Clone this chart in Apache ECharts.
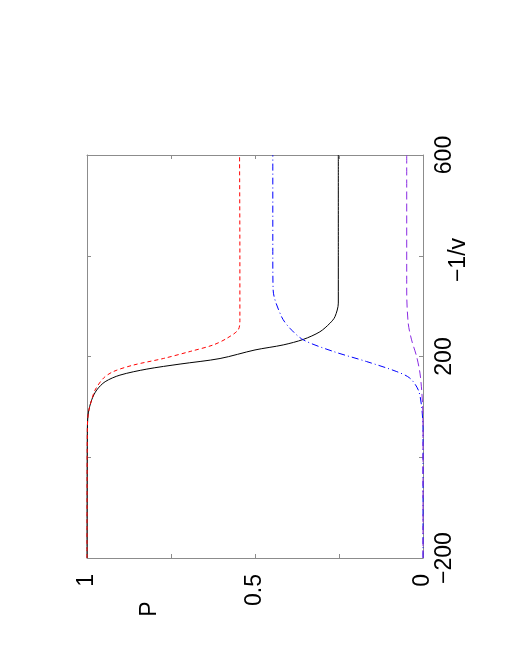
<!DOCTYPE html>
<html>
<head>
<meta charset="utf-8">
<script src="https://cdn.jsdelivr.net/npm/echarts@6/dist/echarts.min.js"></script>
<style>
  html, body { margin: 0; padding: 0; background: #fff; }
  #chart { width: 510px; height: 660px; }
</style>
</head>
<body>
<div id="chart"></div>
<script>
// -1/v positions and P values, one pair per curve
const solidNegInvV = [-200, 54, 88, 114, 133.5, 150, 163, 175, 185, 196, 213, 223, 234, 249, 266, 279, 306, 400, 600];
const solidP = [1, 0.999, 0.996, 0.986, 0.971, 0.946, 0.902, 0.822, 0.723, 0.604, 0.5, 0.416, 0.356, 0.307, 0.277, 0.262, 0.252, 0.252, 0.252];

const redNegInvV = [-200, 54, 88, 114, 133.5, 157, 170, 183, 196, 210, 223, 236, 253, 272, 400, 600];
const redP = [1, 0.999, 0.996, 0.986, 0.976, 0.951, 0.922, 0.862, 0.773, 0.693, 0.624, 0.584, 0.55, 0.545, 0.545, 0.546];

const blueNegInvV = [-200, 54, 100, 133.5, 157, 170, 190, 210, 233, 256, 279, 332, 400, 600];
const blueP = [0, 0, 0.004, 0.014, 0.039, 0.078, 0.168, 0.267, 0.356, 0.396, 0.421, 0.446, 0.447, 0.447];

const purpleNegInvV = [-200, 54, 100, 133.5, 167, 200, 233, 266, 332, 600];
const purpleP = [0, 0, 0.001, 0.004, 0.009, 0.019, 0.034, 0.044, 0.0485, 0.0485];

const pTicks = [0, 0.5, 1];
const vTicks = [-200, 200, 600];

const font = '"Liberation Sans", Arial, sans-serif';
const frameColor = '#8c8c8c';

const pairs = (xs, ys) => xs.map((v, i) => [ys[i], v]);

const chart = echarts.init(document.getElementById('chart'));

const baseAxis = {
  type: 'value',
  axisLine: { show: true, onZero: false, lineStyle: { color: frameColor, width: 1 } },
  axisTick: { show: true, inside: true, length: 4, lineStyle: { color: frameColor } },
  splitLine: { show: false },
};

const lineSeries = (xs, ys, lineStyle) => ({
  type: 'line',
  data: pairs(xs, ys),
  symbol: 'none',
  silent: true,
  smooth: 0.3,
  lineStyle: { width: 1, ...lineStyle },
});

chart.setOption({
  animation: false,
  backgroundColor: '#fff',
  grid: { left: 87, right: 87, top: 155, bottom: 102, containLabel: false },
  xAxis: [
    {
      ...baseAxis,
      position: 'bottom',
      min: 0, max: 1, interval: 0.25, inverse: true,
      axisLabel: {
        rotate: 90, margin: 16, fontSize: 23, fontFamily: font, color: '#000',
        formatter: (v) => (pTicks.includes(v) ? String(v) : ''),
      },
    },
    {
      ...baseAxis,
      position: 'top',
      min: 0, max: 1, interval: 0.25, inverse: true,
      axisLabel: { show: false },
    },
  ],
  yAxis: [
    {
      ...baseAxis,
      position: 'right',
      min: -200, max: 600, interval: 200,
      axisLabel: {
        rotate: 90, margin: 10, fontSize: 23, fontFamily: font, color: '#000',
        formatter: (v) => (vTicks.includes(v) ? String(v).replace('-', '\u2212') : ''),
      },
    },
    {
      ...baseAxis,
      position: 'left',
      min: -200, max: 600, interval: 200,
      axisLabel: { show: false },
    },
  ],
  graphic: [
    {
      type: 'text', x: 150, y: 609, rotation: Math.PI / 2,
      style: { text: 'P', font: '23px ' + font, fill: '#000', align: 'center', verticalAlign: 'middle' },
    },
    {
      type: 'text', x: 459, y: 260, rotation: Math.PI / 2,
      style: { text: '\u22121/v', font: '23px ' + font, fill: '#000', align: 'center', verticalAlign: 'middle' },
    },
  ],
  series: [
    lineSeries(solidNegInvV, solidP, { color: '#000' }),
    lineSeries(redNegInvV, redP, { color: '#ff0000', type: [4, 3] }),
    lineSeries(blueNegInvV, blueP, { color: '#0000ff', type: [7, 3, 1, 3] }),
    lineSeries(purpleNegInvV, purpleP, { color: '#8a2be2', type: [8, 4] }),
  ],
});
</script>
</body>
</html>
